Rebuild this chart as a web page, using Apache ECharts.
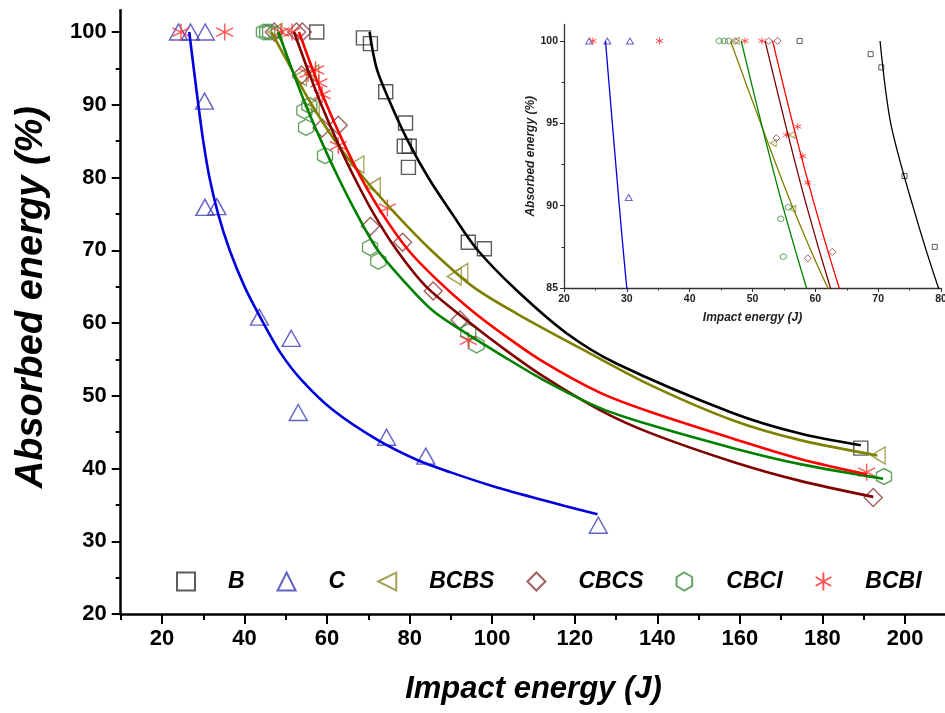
<!DOCTYPE html>
<html><head><meta charset="utf-8">
<script src="https://cdn.jsdelivr.net/npm/echarts@6/dist/echarts.min.js"></script>
<style>html,body{margin:0;padding:0;background:#fff}#c{width:945px;height:713px}</style>
</head><body><div id="c"></div>
<script>
// ---------- data ----------
const seriesNames = ['B', 'C', 'BCBS', 'CBCS', 'CBCI', 'BCBI'];

const B_pts = [[57.5,100],[68.8,99.2],[70.5,98.4],[74.2,91.8],[79.0,87.5],[78.7,84.3],[79.9,84.3],[79.7,81.4],[94.2,71.1],[98.1,70.2],[189.3,42.8]];
const C_pts = [[24.0,100],[26.9,100],[30.5,100],[30.3,90.5],[30.4,75.9],[33.3,76.0],[43.6,60.8],[51.3,57.9],[53.0,47.7],[74.4,44.3],[83.9,41.7],[125.7,32.2]];
const BCBS_pts = [[47.4,100],[53.3,93.8],[56.3,94.3],[56.4,89.8],[67.2,81.8],[71.2,78.8],[90.8,66.4],[92.4,67.0],[193.5,41.8]];
const CBCS_pts = [[47.2,100],[52.6,100],[54.0,100],[53.8,94.1],[58.8,86.8],[62.7,87.2],[70.5,73.3],[78.3,71.1],[85.7,64.4],[92.2,60.4],[192.3,36.0]];
const CBCI_pts = [[44.7,100],[45.5,100],[46.2,100],[54.5,89.2],[55.7,89.9],[54.9,86.9],[59.5,83.0],[70.4,70.4],[72.4,68.5],[94.2,58.8],[96.2,57.0],[194.9,38.9]];
const BCBI_pts = [[24.6,100],[35.2,100],[48.8,100],[51.5,100],[55.4,94.3],[57.2,94.8],[58.0,93.0],[58.8,91.4],[62.7,84.4],[74.6,75.8],[94.2,57.6],[190.7,39.5]];

const B_fit = [[70.3,100],[72.0,95],[75.5,90],[79.6,85],[84.5,80],[90.3,75],[96.5,70],[105.9,64.5],[118,58.6],[130.2,54.4],[158.4,47.6],[174.6,44.8],[189.3,43.2]];
const C_fit = [[26.6,100],[28.8,90],[30.0,85],[31.5,80],[33.6,75],[36.4,70],[40.0,65],[43.8,60.8],[48.6,56.0],[53.6,52.3],[61.5,48.0],[72.0,44.0],[81.7,41.2],[89.8,39.5],[100,37.6],[112,35.7],[125.5,33.7]];
const BCBS_fit = [[46.5,100],[51.3,95],[56.3,90],[62.0,85],[68.8,80],[76.6,75],[85.2,70],[95.3,65],[105.9,61.3],[122.1,56.3],[138.2,51.5],[158.4,46.6],[174.6,43.9],[193.3,41.8]];
const CBCS_fit = [[52.0,100],[55.2,95],[58.6,90],[62.4,85],[66.6,80],[71.3,75],[76.9,70],[84.0,65],[94.2,60.2],[102,56.8],[112,52.8],[126.2,48.0],[138.2,44.9],[158.4,40.9],[174.6,38.3],[192.3,36.1]];
const CBCI_fit = [[48.2,100],[51.4,95],[54.8,90],[58.6,85],[62.7,80],[67.2,75],[72.3,70],[79.8,65],[86,61.5],[94.2,58.4],[101.9,55.7],[112,52.3],[126.2,48.3],[138.2,46.0],[158.4,42.8],[174.6,40.6],[194.7,38.6]];
const BCBI_fit = [[53.2,100],[56.4,95],[59.9,90],[63.8,85],[68.2,80],[73.4,75],[79.7,70],[86.5,66],[94.2,62.1],[102,58.7],[112,54.8],[126.2,50.4],[138.2,47.8],[158.4,44.1],[174.6,41.3],[190.7,39.2]];

const mainXLabels = [20,40,60,80,100,120,140,160,180,200];
const mainXMinor  = [10,30,50,70,90,110,130,150,170,190,210];
const mainYLabels = [20,30,40,50,60,70,80,90,100];
const mainYMinor  = [25,35,45,55,65,75,85,95];
const insetXLabels = [20,30,40,50,60,70,80];
const insetXMinor  = [25,35,45,55,65,75];
const insetYLabels = [85,90,95,100];
const insetYMinor  = [87.5,92.5,97.5];

// ---------- styling ----------
const pointSets = [B_pts, C_pts, BCBS_pts, CBCS_pts, CBCI_pts, BCBI_pts];
const fitSets = [B_fit, C_fit, BCBS_fit, CBCS_fit, CBCI_fit, BCBI_fit];
const lineColors = ['#000000', '#0000dd', '#808000', '#800000', '#008000', '#ff0000'];
const markColors = ['#333333', '#3c3cb8', '#8c8c2a', '#8b3a3a', '#3d8c3d', '#ff2a2a'];
const LEFT_TRI = 'path://M0,5 L10,0 L10,10 Z';
const HEX = 'path://M5,0 L10,2.887 L10,8.66 L5,11.547 L0,8.66 L0,2.887 Z';
const AST = 'path://M5,0 L5,10 M0.67,2.5 L9.33,7.5 M0.67,7.5 L9.33,2.5';
const symbols = ['rect', 'triangle', LEFT_TRI, 'diamond', HEX, AST];
const mainSizes = [[14,14],[18,16],[14,17],[18,18],[15,16],[17,17]];
const insetSizes = [[5,5],[7,6],[6,7],[7,7],[6,6],[7,7]];

const FONT = '"Liberation Sans", Arial, sans-serif';

const series = [];
seriesNames.forEach((n, i) => {
  series.push({
    name: n + ' fit', type: 'line', xAxisIndex: 0, yAxisIndex: 0,
    data: fitSets[i], smooth: 0.3, showSymbol: false, symbol: 'none',
    lineStyle: { color: lineColors[i], width: 2.6 }, z: 3, silent: true
  });
  series.push({
    name: n, type: 'scatter', xAxisIndex: 0, yAxisIndex: 0,
    data: pointSets[i], symbol: symbols[i], symbolSize: mainSizes[i],
    itemStyle: { color: 'transparent', borderColor: markColors[i], borderWidth: 1.4 }, z: 2, clip: false
  });
  series.push({
    name: n + ' fit inset', type: 'line', xAxisIndex: 2, yAxisIndex: 2,
    data: fitSets[i], smooth: 0.3, showSymbol: false, symbol: 'none', clip: true,
    lineStyle: { color: lineColors[i], width: 1.3 }, z: 3, silent: true
  });
  series.push({
    name: n + ' inset', type: 'scatter', xAxisIndex: 2, yAxisIndex: 2,
    data: pointSets[i], symbol: symbols[i], symbolSize: insetSizes[i], clip: true,
    itemStyle: { color: 'transparent', borderColor: markColors[i], borderWidth: 1 }, z: 2
  });
});

const mainLabelStyle = { fontFamily: FONT, fontWeight: 'bold', fontSize: 22, color: '#000' };
const insetLabelStyle = { fontFamily: FONT, fontWeight: 'bold', fontSize: 10.5, color: '#222' };
const xTitleStyle = { fontFamily: FONT, fontWeight: 'bold', fontStyle: 'italic', fontSize: 31, color: '#000' };
const yTitleStyle = { fontFamily: FONT, fontWeight: 'bold', fontStyle: 'italic', fontSize: 38, color: '#000', padding: [0, 0, 0, 30] };
const insetTitleStyle = { fontFamily: FONT, fontWeight: 'bold', fontStyle: 'italic', fontSize: 12, color: '#222' };

const option = {
  animation: false,
  backgroundColor: '#fff',
  grid: [
    { left: 120.7, top: 10.2, width: 825.6, height: 603.8, outerBoundsMode: 'none', containLabel: false },
    { left: 564, top: 24.5, width: 377, height: 263.5, outerBoundsMode: 'none', containLabel: false }
  ],
  xAxis: [
    { gridIndex: 0, type: 'value', min: 10, max: 210, position: 'bottom',
      axisLine: { show: true, onZero: false, lineStyle: { color: '#000', width: 2.5 } },
      axisTick: { show: true, length: 10, customValues: mainXLabels, lineStyle: { color: '#000', width: 2 } },
      axisLabel: { show: true, customValues: mainXLabels, margin: 14, ...mainLabelStyle },
      splitLine: { show: false },
      name: 'Impact energy (J)', nameLocation: 'middle', nameGap: 60, nameTextStyle: xTitleStyle },
    { gridIndex: 0, type: 'value', min: 10, max: 210, position: 'bottom',
      axisLine: { show: false, onZero: false },
      axisTick: { show: true, length: 6, customValues: mainXMinor, lineStyle: { color: '#000', width: 2 } },
      axisLabel: { show: false }, splitLine: { show: false } },
    { gridIndex: 1, type: 'value', min: 20, max: 80, position: 'bottom',
      axisLine: { show: true, onZero: false, lineStyle: { color: '#333', width: 1.3 } },
      axisTick: { show: true, length: 4, customValues: insetXLabels, lineStyle: { color: '#333', width: 1 } },
      axisLabel: { show: true, customValues: insetXLabels, margin: 6, ...insetLabelStyle },
      splitLine: { show: false },
      name: 'Impact energy (J)', nameLocation: 'middle', nameGap: 24, nameTextStyle: insetTitleStyle },
    { gridIndex: 1, type: 'value', min: 20, max: 80, position: 'bottom',
      axisLine: { show: false, onZero: false },
      axisTick: { show: true, length: 2.5, customValues: insetXMinor, lineStyle: { color: '#333', width: 1 } },
      axisLabel: { show: false }, splitLine: { show: false } }
  ],
  yAxis: [
    { gridIndex: 0, type: 'value', min: 20, max: 103, position: 'left',
      axisLine: { show: true, onZero: false, lineStyle: { color: '#000', width: 2.5 } },
      axisTick: { show: true, length: 9, customValues: mainYLabels, lineStyle: { color: '#000', width: 2 } },
      axisLabel: { show: true, customValues: mainYLabels, margin: 14, ...mainLabelStyle },
      splitLine: { show: false },
      name: 'Absorbed energy (%)', nameLocation: 'middle', nameGap: 70, nameRotate: 90, nameTextStyle: yTitleStyle },
    { gridIndex: 0, type: 'value', min: 20, max: 103, position: 'left',
      axisLine: { show: false, onZero: false },
      axisTick: { show: true, length: 5, customValues: mainYMinor, lineStyle: { color: '#000', width: 2 } },
      axisLabel: { show: false }, splitLine: { show: false } },
    { gridIndex: 1, type: 'value', min: 85, max: 101, position: 'left',
      axisLine: { show: true, onZero: false, lineStyle: { color: '#333', width: 1.3 } },
      axisTick: { show: true, length: 4, customValues: insetYLabels, lineStyle: { color: '#333', width: 1 } },
      axisLabel: { show: true, customValues: insetYLabels, margin: 6, ...insetLabelStyle },
      splitLine: { show: false },
      name: 'Absorbed energy (%)', nameLocation: 'middle', nameGap: 27, nameRotate: 90, nameTextStyle: insetTitleStyle },
    { gridIndex: 1, type: 'value', min: 85, max: 101, position: 'left',
      axisLine: { show: false, onZero: false },
      axisTick: { show: true, length: 2.5, customValues: insetYMinor, lineStyle: { color: '#333', width: 1 } },
      axisLabel: { show: false }, splitLine: { show: false } }
  ],
  legend: {
    data: seriesNames, orient: 'horizontal', left: 171, top: 565,
    itemWidth: 18, itemHeight: 18, itemGap: 32, selectedMode: false,
    textStyle: { fontFamily: FONT, fontWeight: 'bold', fontStyle: 'italic', fontSize: 23, color: '#000', padding: [0,0,0,28] }
  },
  series: series
};

const chart = echarts.init(document.getElementById('c'), null, { renderer: 'canvas' });
chart.setOption(option);
</script>
</body></html>
